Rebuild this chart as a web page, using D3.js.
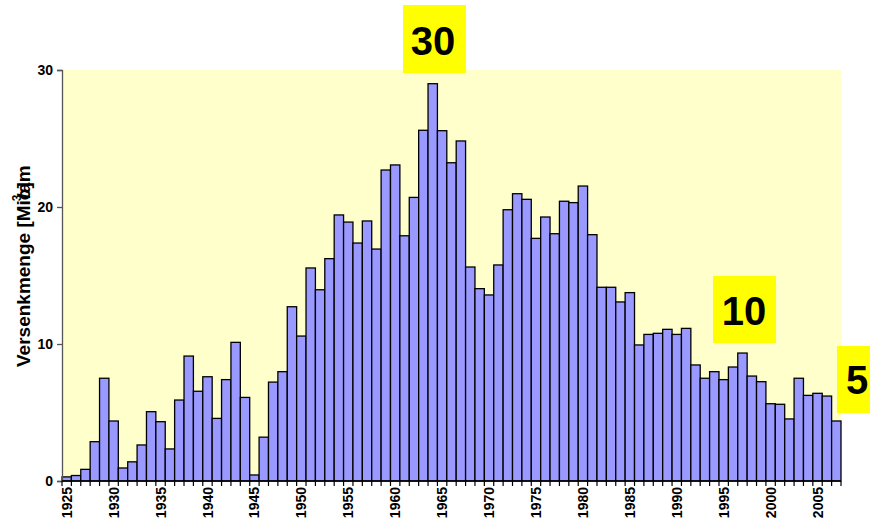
<!DOCTYPE html>
<html>
<head>
<meta charset="utf-8">
<script src="https://cdn.jsdelivr.net/npm/d3@7"></script>
<style>
  html, body { margin: 0; padding: 0; background: #fff; }
  svg { display: block; font-family: Arial, "Liberation Sans", sans-serif; }
</style>
</head>
<body>
<svg id="chart" width="870" height="520"></svg>
<script>
const years = d3.range(1925, 2008);
const values = [
  0.3, 0.4, 0.85, 2.87, 7.5, 4.38, 0.95, 1.4, 2.63, 5.06,
  4.33, 2.34, 5.91, 9.12, 6.55, 7.61, 4.57, 7.4, 10.12, 6.1,
  0.44, 3.2, 7.22, 7.98, 12.72, 10.58, 15.55, 13.96, 16.23, 19.42,
  18.9, 17.37, 18.98, 16.93, 22.7, 23.07, 17.9, 20.7, 25.6, 29.0,
  25.57, 23.23, 24.82, 15.62, 14.04, 13.58, 15.77, 19.8, 20.97, 20.56,
  17.71, 19.27, 18.05, 20.42, 20.32, 21.53, 17.98, 14.14, 14.14, 13.07,
  13.75, 9.93, 10.7, 10.78, 11.07, 10.7, 11.14, 8.47, 7.5, 7.98,
  7.4, 8.32, 9.34, 7.66, 7.25, 5.64, 5.6, 4.53, 7.5, 6.25,
  6.4, 6.2, 4.38
];
const yTicks = [0, 10, 20, 30];
const xLabelYears = [1925, 1930, 1935, 1940, 1945, 1950, 1955, 1960, 1965, 1970, 1975, 1980, 1985, 1990, 1995, 2000, 2005];
const callouts = [
  { text: "30", x0: 403, x1: 466, y0: 5, y1: 73 },
  { text: "10", x0: 713, x1: 776, y0: 276, y1: 343 },
  { text: "5", x0: 837, x1: 900, y0: 346, y1: 413 }
];
const data = years.map((y, i) => ({ year: y, value: values[i] }));

const svg = d3.select("#chart");
const mLeft = 62, mRight = 841, mTop = 70, mBottom = 481;

const x = d3.scaleBand().domain(years).range([mLeft, mRight]).padding(0);
const y = d3.scaleLinear().domain([0, 30]).range([mBottom, mTop]);

// plot background
svg.append("rect")
  .attr("x", mLeft).attr("y", mTop)
  .attr("width", mRight - mLeft).attr("height", mBottom - mTop)
  .attr("fill", "#FFFFCC");

// bars
svg.append("g").selectAll("rect").data(data).join("rect")
  .attr("x", d => x(d.year))
  .attr("y", d => y(d.value))
  .attr("width", x.bandwidth())
  .attr("height", d => y(0) - y(d.value))
  .attr("fill", "#9999FF")
  .attr("stroke", "#000")
  .attr("stroke-width", 1.3);

// y axis
const yAxis = d3.axisLeft(y).tickValues(yTicks).tickSize(5).tickPadding(4).tickFormat(d3.format("d"));
const gy = svg.append("g").attr("transform", `translate(${mLeft},0)`).call(yAxis);
gy.select(".domain").attr("stroke", "#555").attr("stroke-width", 1.3);
gy.selectAll(".tick line").attr("stroke", "#555").attr("stroke-width", 1.3);
gy.selectAll(".tick text")
  .attr("font-size", 14).attr("font-weight", "bold").attr("fill", "#000")
  .attr("font-family", "Arial, 'Liberation Sans', sans-serif");

// x axis: ticks at every bar boundary
const gx = svg.append("g");
gx.append("line")
  .attr("x1", mLeft).attr("x2", mRight).attr("y1", mBottom).attr("y2", mBottom)
  .attr("stroke", "#000").attr("stroke-width", 1.5);
const boundaries = years.map(yr => x(yr)).concat([x(years[years.length - 1]) + x.bandwidth()]);
gx.selectAll("line.tk").data(boundaries).join("line")
  .attr("class", "tk")
  .attr("x1", d => d).attr("x2", d => d)
  .attr("y1", mBottom).attr("y2", mBottom + 5)
  .attr("stroke", "#000").attr("stroke-width", 1.2);
gx.selectAll("text").data(xLabelYears).join("text")
  .attr("transform", d => `translate(${x(d) + x.bandwidth() / 2},${mBottom + 6}) rotate(-90)`)
  .attr("text-anchor", "end")
  .attr("dy", "0.36em")
  .attr("font-size", 14).attr("font-weight", "bold")
  .text(d => d);

// y label (with the overlapping unit glyphs as in the reference)
const yl = svg.append("g").attr("transform", "translate(30,367) rotate(-90)");
const mainLabel = yl.append("text")
  .attr("x", 0).attr("y", 0)
  .attr("font-size", 19).attr("font-weight", "bold")
  .text("Versenkmenge [Mio]m");
const node = mainLabel.node();
const oStart = node.getSubStringLength(0, 16);
const oW = node.getSubStringLength(16, 1);
yl.append("text")
  .attr("x", oStart + oW * 0.15).attr("y", 0)
  .attr("font-size", 19).attr("font-weight", "bold")
  .text("/a");
yl.append("text")
  .attr("x", oStart - 1).attr("y", -9)
  .attr("font-size", 12).attr("font-weight", "bold")
  .text("3");

// yellow callouts
const cg = svg.append("g");
callouts.forEach(c => {
  cg.append("rect")
    .attr("x", c.x0).attr("y", c.y0)
    .attr("width", c.x1 - c.x0).attr("height", c.y1 - c.y0)
    .attr("fill", "#FFFF00");
});
cg.append("text").attr("x", 433).attr("y", 55).attr("text-anchor", "middle")
  .attr("font-size", 40).attr("font-weight", "bold").text(callouts[0].text);
cg.append("text").attr("x", 744).attr("y", 325).attr("text-anchor", "middle")
  .attr("font-size", 40).attr("font-weight", "bold").text(callouts[1].text);
cg.append("text").attr("x", 846).attr("y", 394).attr("text-anchor", "start")
  .attr("font-size", 40).attr("font-weight", "bold").text(callouts[2].text);
</script>
</body>
</html>
